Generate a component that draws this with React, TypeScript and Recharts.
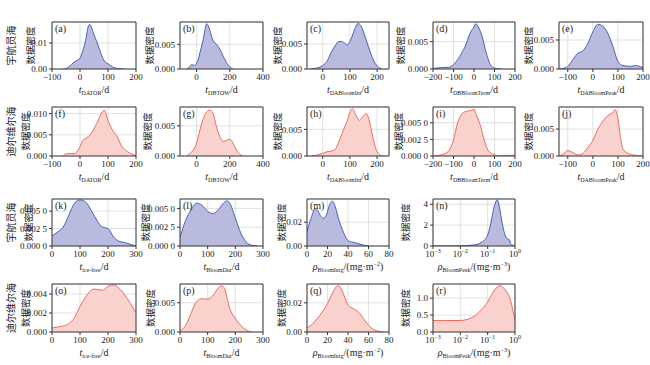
import React from "react";
import { AreaChart, Area, XAxis, YAxis, CartesianGrid, ReferenceArea } from "recharts";

// ---- data: density curves ----
// row 1: 宇航员海
const aX = [-60, -50, -40, -30, -20, -10, 0, 10, 20, 30, 35, 40, 50, 60, 70, 80, 90, 100, 110, 120, 140, 160];
const aY = [0, 0.0002, 0.0008, 0.0018, 0.0028, 0.0033, 0.0042, 0.007, 0.011, 0.0165, 0.0172, 0.0162, 0.0132, 0.0105, 0.0075, 0.0045, 0.0027, 0.002, 0.0012, 0.0006, 0.0001, 0];
const bX = [-60, -40, -30, -20, -10, 0, 10, 20, 30, 40, 50, 60, 70, 80, 90, 100, 110, 120, 140, 160, 180, 200, 220];
const bY = [0, 0.0005, 0.0009, 0.0008, 0.0007, 0.0012, 0.002, 0.0033, 0.0046, 0.006, 0.0078, 0.0092, 0.0088, 0.0078, 0.0066, 0.0057, 0.0053, 0.005, 0.004, 0.0026, 0.0013, 0.0004, 0];
const cX = [-45, -30, -15, 0, 15, 30, 45, 60, 70, 80, 90, 100, 110, 120, 130, 140, 150, 160, 175, 190, 205, 220];
const cY = [0, 0.0001, 0.0003, 0.0007, 0.0015, 0.0032, 0.0046, 0.0055, 0.0055, 0.0052, 0.0048, 0.0055, 0.0068, 0.0083, 0.0091, 0.0087, 0.0074, 0.0058, 0.0034, 0.0014, 0.0004, 0];
const dX = [-200, -175, -150, -125, -100, -80, -60, -40, -20, 0, 10, 20, 40, 60, 80, 100, 120, 140];
const dY = [0.0001, 0.0002, 0.0003, 0.0003, 0.0008, 0.0017, 0.0029, 0.0044, 0.0065, 0.0077, 0.0083, 0.0078, 0.0059, 0.0029, 0.0008, 0.0002, 0.00005, 0];
const eX = [-135, -120, -100, -80, -60, -40, -20, 0, 20, 40, 60, 80, 100, 120, 150, 170, 200];
const eY = [0, 0.0001, 0.00045, 0.0016, 0.0027, 0.0031, 0.0044, 0.0064, 0.0077, 0.0074, 0.0061, 0.0039, 0.0013, 0.0006, 0.00045, 0.0006, 0.0002];
// row 2: 迪尔维尔海
const fX = [-60, -50, -40, -20, 0, 10, 20, 40, 60, 80, 87, 100, 120, 130, 150, 170, 190, 200];
const fY = [0.0001, 0.0005, 0.0006, 0.0006, 0.0022, 0.0037, 0.0041, 0.0053, 0.0077, 0.0104, 0.0108, 0.0084, 0.0057, 0.0049, 0.0022, 0.001, 0.0003, 0.0001];
const gX = [-60, -40, -20, 0, 20, 40, 60, 80, 100, 120, 140, 160, 180, 200, 220, 240, 260, 280];
const gY = [0, 0.0004, 0.001, 0.0021, 0.0043, 0.0062, 0.0073, 0.0076, 0.007, 0.0048, 0.0032, 0.0024, 0.0026, 0.0028, 0.0021, 0.001, 0.0003, 0];
const hX = [-40, -20, 0, 15, 30, 45, 60, 75, 90, 105, 110, 120, 135, 150, 160, 170, 185, 200, 215, 230];
const hY = [0, 0.0002, 0.0005, 0.0008, 0.0009, 0.0012, 0.0028, 0.0047, 0.0066, 0.0087, 0.00885, 0.0079, 0.0067, 0.0075, 0.008, 0.0069, 0.0034, 0.0008, 0.0001, 0];
const iX = [-200, -160, -140, -120, -100, -80, -60, -40, -20, 0, 10, 30, 50, 70, 100, 130, 160, 200];
const iY = [0, 0.00016, 0.0004, 0.0009, 0.0024, 0.005, 0.0063, 0.0067, 0.0068, 0.007, 0.0063, 0.0047, 0.0024, 0.0008, 0.00016, 0, 0.0001, 0.0001];
const jX = [-135, -120, -100, -80, -60, -40, -20, 0, 20, 40, 60, 80, 90, 100, 110, 120, 150, 200];
const jY = [0, 0.0003, 0.001, 0.00065, 0.0002, 0.00045, 0.0016, 0.0029, 0.005, 0.0065, 0.0075, 0.0081, 0.0086, 0.0068, 0.0036, 0.0013, 0.0003, 0];
// row 3: 宇航员海
const kX = [0, 20, 40, 60, 80, 100, 120, 140, 160, 180, 200, 220, 240, 260, 280, 300];
const kY = [0.00144, 0.002, 0.0027, 0.0044, 0.0061, 0.0066, 0.0063, 0.0051, 0.0037, 0.0027, 0.0025, 0.0013, 0.00067, 0.0005, 0.00024, 0];
const lX = [0, 20, 40, 60, 80, 100, 120, 140, 160, 170, 180, 200, 220, 240, 260, 280];
const lY = [0.0011, 0.0034, 0.0048, 0.0057, 0.0054, 0.0046, 0.0043, 0.0049, 0.0058, 0.006, 0.0057, 0.0037, 0.0017, 0.0005, 0.0001, 0];
const mX = [0, 4, 8, 10, 13, 16, 19, 22, 25, 28, 31, 34, 37, 40, 45, 50, 55, 60];
const mY = [0.0121, 0.0234, 0.0313, 0.0305, 0.0257, 0.0234, 0.0262, 0.0347, 0.0375, 0.0319, 0.022, 0.0149, 0.0087, 0.0045, 0.0031, 0.002, 0.0008, 0];
const nX = [0.001, 0.003, 0.01, 0.0316, 0.0631, 0.1, 0.126, 0.158, 0.2, 0.224, 0.251, 0.316, 0.398, 0.501, 0.631, 0.708, 0.794, 1];
const nY = [0, 0.005, 0.02, 0.1, 0.4, 1.06, 2.0, 3.3, 4.26, 4.42, 4.1, 2.66, 1.38, 0.74, 0.58, 0.16, 0.1, 0];
// row 4: 迪尔维尔海
const oX = [0, 20, 40, 60, 80, 100, 120, 140, 150, 160, 180, 200, 220, 240, 260, 280, 300];
const oY = [0.00042, 0.00053, 0.00064, 0.00088, 0.0015, 0.0027, 0.0037, 0.0044, 0.00453, 0.0045, 0.0044, 0.0048, 0.00496, 0.0046, 0.0039, 0.003, 0.00205];
const pX = [0, 20, 40, 60, 80, 100, 120, 140, 150, 160, 180, 200, 220, 240, 260];
const pY = [0.0002, 0.0011, 0.0032, 0.0052, 0.0057, 0.0056, 0.0063, 0.0076, 0.0079, 0.0075, 0.004, 0.0023, 0.0011, 0.0003, 0];
const qX = [0, 5, 10, 15, 20, 25, 30, 33, 36, 40, 45, 50, 55, 60, 65, 70, 75];
const qY = [0.0028, 0.0053, 0.0092, 0.0138, 0.0195, 0.0269, 0.0317, 0.0301, 0.0253, 0.0184, 0.0161, 0.0138, 0.0092, 0.0046, 0.0016, 0.0005, 0];
const rX = [0.001, 0.003, 0.01, 0.0316, 0.0562, 0.1, 0.178, 0.282, 0.437, 0.575, 0.708, 0.891, 1];
const rY = [0.337, 0.337, 0.34, 0.46, 0.64, 0.89, 1.24, 1.366, 1.24, 1.09, 0.89, 0.54, 0.37];

// ---- tick values / labels ----
const tDATOR = [-100, 0, 100, 200];
const tDBTOW = [0, 200, 400];
const tIni = [0, 100, 200];
const tTerm = [-200, -100, 0, 100, 200];
const tPeak = [-100, 0, 100, 200];
const tDays = [0, 100, 200, 300];
const tIntg = [0, 20, 40, 60, 80];
const tLog = [0.001, 0.01, 0.1, 1];

const ROW_NAMES = ["宇航员海", "迪尔维尔海", "宇航员海", "迪尔维尔海"];

// ---- layout ----
const COL_LEFT = [52, 180, 307, 433, 559];
const COL_W = [84, 83, 82, 82, 84];
const ROW_TOP = [22, 107, 199, 284];
const ROW_H = [47, 49, 47, 48];
const YW = 50;
const MT = 6;
const MR = 9;
const XH = 30;

const SERIF = "'Liberation Serif', 'DejaVu Serif', serif";
const CJK = "'Noto Sans CJK SC', sans-serif";
const BLUE = { line: "#4262bd", fill: "#babade" };
const RED = { line: "#ef6a5c", fill: "#f9d2cd" };

type P = {
  tag: string; xs: number[]; ys: number[]; xd: [number, number]; xt: number[]; log?: boolean;
  ymax: number; yt: number[]; yl: string[]; main: string; sub: string; unit: string; sup?: string;
  col: number; row: number; dx: number;
};

const panels: P[] = [
  { tag: "(a)", xs: aX, ys: aY, xd: [-100, 200], xt: tDATOR, ymax: 0.0181, yt: [0, 0.01], yl: ["0.00", "0.01"], main: "t", sub: "DATOR", unit: "/d", col: 0, row: 0, dx: -22 },
  { tag: "(b)", xs: bX, ys: bY, xd: [-100, 400], xt: tDBTOW, ymax: 0.00953, yt: [0, 0.005], yl: ["0.000", "0.005"], main: "t", sub: "DBTOW", unit: "/d", col: 1, row: 0, dx: -31 },
  { tag: "(c)", xs: cX, ys: cY, xd: [-58, 244], xt: tIni, ymax: 0.0094, yt: [0, 0.005], yl: ["0.000", "0.005"], main: "t", sub: "DABloomIni", unit: "/d", col: 2, row: 0, dx: -30 },
  { tag: "(d)", xs: dX, ys: dY, xd: [-200, 200], xt: tTerm, ymax: 0.0086, yt: [0, 0.005], yl: ["0.000", "0.005"], main: "t", sub: "DBBloomTerm", unit: "/d", col: 3, row: 0, dx: -33 },
  { tag: "(e)", xs: eX, ys: eY, xd: [-135, 200], xt: tPeak, ymax: 0.0081, yt: [0, 0.005], yl: ["0.000", "0.005"], main: "t", sub: "DABloomPeak", unit: "/d", col: 4, row: 0, dx: -31 },
  { tag: "(f)", xs: fX, ys: fY, xd: [-100, 200], xt: tDATOR, ymax: 0.01156, yt: [0, 0.005, 0.01], yl: ["0.000", "0.005", "0.010"], main: "t", sub: "DATOR", unit: "/d", col: 0, row: 1, dx: -27 },
  { tag: "(g)", xs: gX, ys: gY, xd: [-100, 400], xt: tDBTOW, ymax: 0.00813, yt: [0, 0.005], yl: ["0.000", "0.005"], main: "t", sub: "DBTOW", unit: "/d", col: 1, row: 1, dx: -33 },
  { tag: "(h)", xs: hX, ys: hY, xd: [-58, 244], xt: tIni, ymax: 0.0092, yt: [0, 0.005], yl: ["0.000", "0.005"], main: "t", sub: "DABloomIni", unit: "/d", col: 2, row: 1, dx: -30 },
  { tag: "(i)", xs: iX, ys: iY, xd: [-200, 200], xt: tTerm, ymax: 0.00737, yt: [0, 0.0025, 0.005], yl: ["0.000 0", "0.002 5", "0.005 0"], main: "t", sub: "DBBloomTerm", unit: "/d", col: 3, row: 1, dx: -35 },
  { tag: "(j)", xs: jX, ys: jY, xd: [-135, 200], xt: tPeak, ymax: 0.0091, yt: [0, 0.005], yl: ["0.000", "0.005"], main: "t", sub: "DABloomPeak", unit: "/d", col: 4, row: 1, dx: -31 },
  { tag: "(k)", xs: kX, ys: kY, xd: [0, 300], xt: tDays, ymax: 0.00673, yt: [0, 0.0025, 0.005], yl: ["0.000 0", "0.002 5", "0.005 0"], main: "t", sub: "ice-free", unit: "/d", col: 0, row: 2, dx: -24 },
  { tag: "(l)", xs: lX, ys: lY, xd: [0, 300], xt: tDays, ymax: 0.00625, yt: [0, 0.0025, 0.005], yl: ["0.000 0", "0.002 5", "0.005 0"], main: "t", sub: "BloomDur", unit: "/d", col: 1, row: 2, dx: -35 },
  { tag: "(m)", xs: mX, ys: mY, xd: [0, 80], xt: tIntg, ymax: 0.0395, yt: [0, 0.02], yl: ["0.00", "0.02"], main: "ρ", sub: "BloomIntg", unit: "/(mg·m", sup: "−2", col: 2, row: 2, dx: -26 },
  { tag: "(n)", xs: nX, ys: nY, xd: [0.001, 1], xt: tLog, log: true, ymax: 4.5, yt: [0, 2, 4], yl: ["0", "2", "4"], main: "ρ", sub: "BloomPeak", unit: "/(mg·m", sup: "−3", col: 3, row: 2, dx: -28 },
  { tag: "(o)", xs: oX, ys: oY, xd: [0, 300], xt: tDays, ymax: 0.00506, yt: [0, 0.002, 0.004], yl: ["0.000", "0.002", "0.004"], main: "t", sub: "ice-free", unit: "/d", col: 0, row: 3, dx: -27 },
  { tag: "(p)", xs: pX, ys: pY, xd: [0, 300], xt: tDays, ymax: 0.0082, yt: [0, 0.005], yl: ["0.000", "0.005"], main: "t", sub: "BloomDur", unit: "/d", col: 1, row: 3, dx: -30 },
  { tag: "(q)", xs: qX, ys: qY, xd: [0, 80], xt: tIntg, ymax: 0.0329, yt: [0, 0.02], yl: ["0.00", "0.02"], main: "ρ", sub: "BloomIntg", unit: "/(mg·m", sup: "−2", col: 2, row: 3, dx: -26 },
  { tag: "(r)", xs: rX, ys: rY, xd: [0.001, 1], xt: tLog, log: true, ymax: 1.416, yt: [0, 0.5, 1], yl: ["0.0", "0.5", "1.0"], main: "ρ", sub: "BloomPeak", unit: "/(mg·m", sup: "−3", col: 3, row: 3, dx: -28 },
];

function XTick(props: any) {
  const { x, y, payload, log } = props;
  const v = payload.value;
  if (log) {
    const e = Math.round(Math.log10(v));
    return (
      <text x={x} y={y + 7} textAnchor="middle" fontSize={9} fill="#222" fontFamily={SERIF}>
        10<tspan dy={-4} fontSize={6}>{e < 0 ? "−" + -e : String(e)}</tspan>
      </text>
    );
  }
  return (
    <text x={x} y={y + 7} textAnchor="middle" fontSize={9} fill="#222" fontFamily={SERIF}>
      {v < 0 ? "−" + Math.abs(v) : String(v)}
    </text>
  );
}

function Panel({ p }: { p: P }) {
  const w = COL_W[p.col];
  const h = ROW_H[p.row];
  const data = p.xs.map((x, i) => ({ x, y: p.ys[i] }));
  const c = p.row % 2 === 0 ? BLUE : RED;

  const xTitle = () => (
    <text x={YW + w / 2} y={MT + h + 24} textAnchor="middle" fontSize={10} fill="#222" fontFamily={SERIF}>
      <tspan fontStyle="italic">{p.main}</tspan>
      <tspan fontSize={6} dy={2}>{p.sub}</tspan>
      <tspan dy={-2}>{p.unit}</tspan>
      {p.sup && <tspan dy={-4} fontSize={6}>{p.sup}</tspan>}
      {p.sup && <tspan dy={4}>)</tspan>}
    </text>
  );

  const yTitle = () => {
    const cy = MT + h / 2;
    const lx = YW + p.dx;
    const rx = YW - 42;
    return (
      <g>
        <text x={lx} y={cy} transform={`rotate(-90 ${lx} ${cy})`} textAnchor="middle" dominantBaseline="central" fontSize={9.5} fill="#222" fontFamily={CJK}>
          数据密度
        </text>
        {p.col === 0 && (
          <text x={rx} y={cy} transform={`rotate(-90 ${rx} ${cy})`} textAnchor="middle" dominantBaseline="central" fontSize={10} fill="#222" fontFamily={CJK}>
            {ROW_NAMES[p.row]}
          </text>
        )}
        <text x={YW + 3} y={MT + 10} fontSize={10} fill="#222" fontFamily={SERIF}>{p.tag}</text>
      </g>
    );
  };

  return (
    <div style={{ position: "absolute", left: COL_LEFT[p.col] - YW, top: ROW_TOP[p.row] - MT }}>
      <AreaChart width={YW + w + MR} height={MT + h + XH} data={data} margin={{ top: MT, right: MR, left: 0, bottom: 0 }}>
        <CartesianGrid stroke="#d9d9d9" strokeWidth={0.8} />
        <XAxis
          dataKey="x"
          type="number"
          scale={p.log ? "log" : "linear"}
          domain={p.xd}
          ticks={p.xt}
          interval={0}
          allowDataOverflow
          height={XH}
          axisLine={false}
          tickSize={3}
          tickMargin={1}
          tickLine={{ stroke: "#333" }}
          tick={<XTick log={p.log} />}
          label={xTitle}
        />
        <YAxis
          type="number"
          domain={[0, p.ymax]}
          ticks={p.yt}
          interval={0}
          allowDataOverflow
          width={YW}
          axisLine={false}
          tickSize={3}
          tickMargin={2}
          tickLine={{ stroke: "#333" }}
          tick={{ fontSize: 9, fill: "#222", fontFamily: SERIF }}
          tickFormatter={(v: number) => p.yl[p.yt.indexOf(v)] ?? String(v)}
          label={yTitle}
        />
        <Area
          dataKey="y"
          type="monotone"
          stroke={c.line}
          strokeWidth={1}
          fill={c.fill}
          fillOpacity={1}
          dot={false}
          activeDot={false}
          isAnimationActive={false}
        />
        <ReferenceArea x1={p.xd[0]} x2={p.xd[1]} y1={0} y2={p.ymax} fill="none" stroke="#3a3a3a" strokeWidth={1} ifOverflow="visible" />
      </AreaChart>
    </div>
  );
}

export default function App() {
  return (
    <div style={{ position: "absolute", left: 0, top: 0, width: 650, height: 365, background: "#fff" }}>
      {panels.map((p) => (
        <Panel key={p.tag} p={p} />
      ))}
    </div>
  );
}
